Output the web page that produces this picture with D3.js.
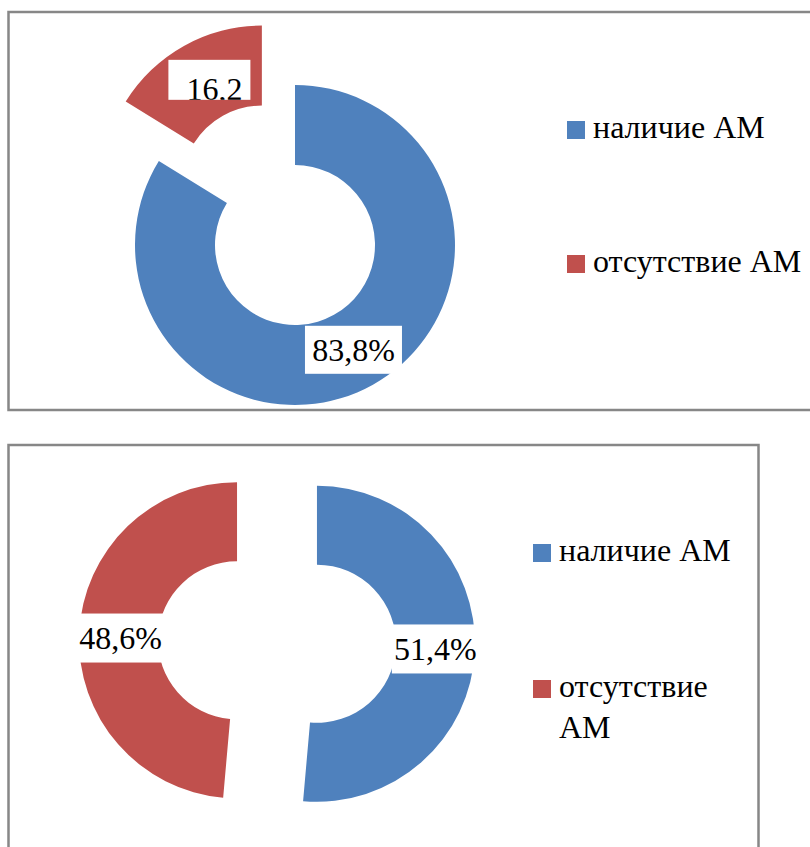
<!DOCTYPE html>
<html>
<head>
<meta charset="utf-8">
<script src="https://cdn.jsdelivr.net/npm/d3@7"></script>
</head>
<body style="margin:0">
<svg id="chart"></svg>
<script>
// categories + values
const categories = ["наличие АМ", "отсутствие АМ"];
const colors = ["#4F81BD", "#C0504D"];

const topValues = [83.8, 16.2];
const topLabels = ["83,8%", "16,2"];

const bottomValues = [51.4, 48.6];
const bottomLabels = ["51,4%", "48,6%"];

// Page dimensions
const totalWidth = 810;
const totalHeight = 847;
const fontSize = 32;
const fontFamily = "Liberation Serif";

// layout of the two panels
const panels = [
  {
    values: topValues,
    labels: topLabels,
    frame: { x: 8.5, y: 12, w: 830, h: 398 },
    center: [295, 245],
    outer: 160,
    inner: 80,
    explode: [0, 68],
    labelBox: [[97, 48], [82, 40]],
    labelShift: [[0, 0], [6, -1]],
    textShift: [[0, 0], [5, 9]],
    clipLabel: [false, true],
    legend: { x: 567, rows: [121, 255], wrap: false },
  },
  {
    values: bottomValues,
    labels: bottomLabels,
    frame: { x: 8.5, y: 445, w: 750, h: 430 },
    center: [277, 642],
    outer: 158,
    inner: 79,
    explode: [40, 40],
    labelBox: [[87, 49], [87, 49]],
    labelShift: [[0, 0], [2, 3]],
    textShift: [[0, 0], [0, 0]],
    clipLabel: [false, false],
    legend: { x: 533, rows: [544, 680], wrap: true },
  },
];

const svg = d3
  .select("#chart")
  .attr("width", totalWidth)
  .attr("height", totalHeight);

const defs = svg.append("defs");

const pie = d3.pie().sort(null).value((d) => d);

// every text gets the serif face straight on the element
const addText = (parent, x, y) =>
  parent
    .append("text")
    .attr("x", x)
    .attr("y", y)
    .attr("font-size", fontSize)
    .attr("font-family", fontFamily)
    .attr("style", `font-family: '${fontFamily}', serif; font-size: ${fontSize}px`);

panels.forEach((p, pi) => {
  const g = svg.append("g").attr("class", "panel-" + pi);

  // frame
  g.append("rect")
    .attr("x", p.frame.x)
    .attr("y", p.frame.y)
    .attr("width", p.frame.w)
    .attr("height", p.frame.h)
    .attr("fill", "#fff")
    .attr("stroke", "#878787")
    .attr("stroke-width", 2.5);

  const arc = d3.arc().innerRadius(p.inner).outerRadius(p.outer);
  const arcs = pie(p.values);

  // offset of an exploded slice along its bisector
  const offset = (d, i) => {
    const a = (d.startAngle + d.endAngle) / 2;
    return [Math.sin(a) * p.explode[i], -Math.cos(a) * p.explode[i]];
  };

  g.append("g")
    .attr("class", "slices")
    .selectAll("path")
    .data(arcs)
    .enter()
    .append("path")
    .attr("d", arc)
    .attr("fill", (d, i) => colors[i])
    .attr("transform", (d, i) => {
      const o = offset(d, i);
      return `translate(${p.center[0] + o[0]},${p.center[1] + o[1]})`;
    });

  // data labels on white boxes
  const labels = g.append("g").attr("class", "labels");
  arcs.forEach((d, i) => {
    const o = offset(d, i);
    const c = arc.centroid(d);
    const cx = p.center[0] + o[0] + c[0] + p.labelShift[i][0];
    const cy = p.center[1] + o[1] + c[1] + p.labelShift[i][1];
    const [bw, bh] = p.labelBox[i];

    labels
      .append("rect")
      .attr("x", cx - bw / 2)
      .attr("y", cy - bh / 2)
      .attr("width", bw)
      .attr("height", bh)
      .attr("fill", "#fff");

    const t = addText(labels, cx + p.textShift[i][0], cy + 11 + p.textShift[i][1])
      .attr("text-anchor", "middle")
      .text(p.labels[i]);

    if (p.clipLabel[i]) {
      const id = `clip-${pi}-${i}`;
      defs
        .append("clipPath")
        .attr("id", id)
        .append("rect")
        .attr("x", cx - bw / 2)
        .attr("y", cy - bh / 2)
        .attr("width", bw)
        .attr("height", bh);
      t.attr("clip-path", `url(#${id})`);
    }
  });

  // legend
  const legend = g.append("g").attr("class", "legend");
  categories.forEach((name, i) => {
    const y = p.legend.rows[i];
    legend
      .append("rect")
      .attr("x", p.legend.x)
      .attr("y", y)
      .attr("width", 18)
      .attr("height", 18)
      .attr("fill", colors[i]);

    const text = addText(legend, p.legend.x + 26, y + 17);

    // the narrower bottom frame wraps the long entry onto two lines
    const lines = p.legend.wrap && i === 1 ? name.split(" ") : [name];
    lines.forEach((w, wi) => {
      text
        .append("tspan")
        .attr("x", p.legend.x + 26)
        .attr("dy", wi === 0 ? 0 : 41)
        .text(w);
    });
  });
});
</script>
</body>
</html>
